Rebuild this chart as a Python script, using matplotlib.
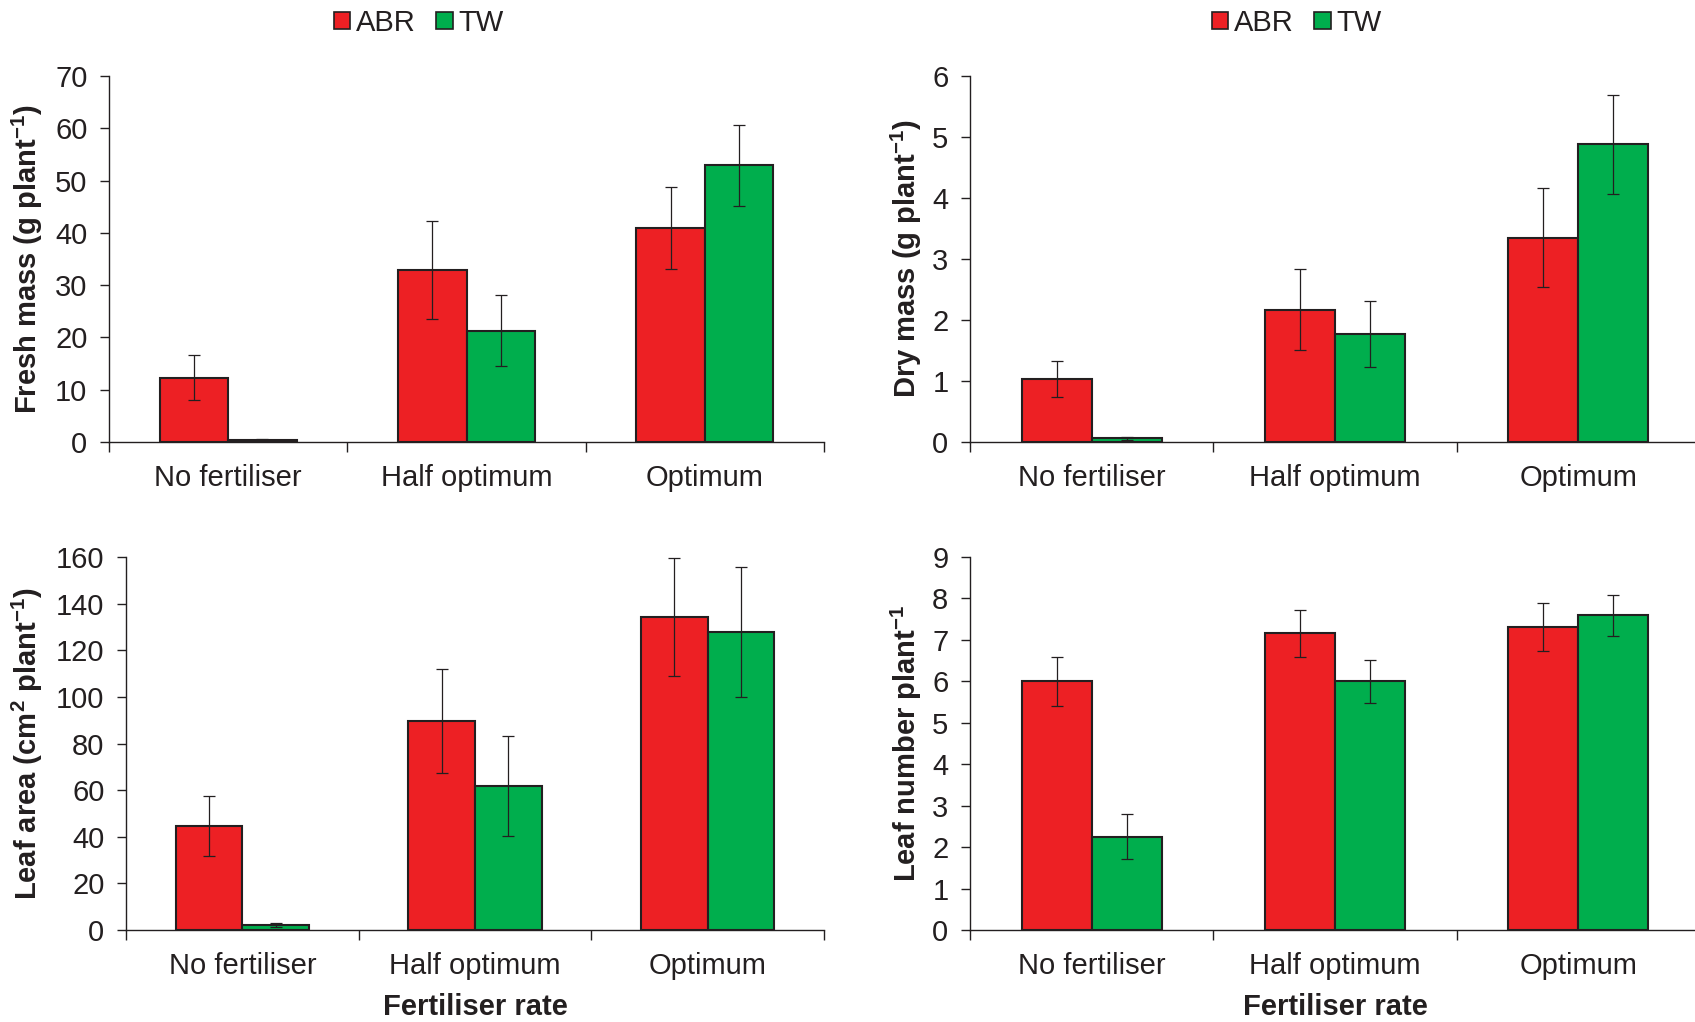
import matplotlib
matplotlib.use('Agg')
import matplotlib.pyplot as plt
from matplotlib.patches import Patch
from matplotlib.transforms import blended_transform_factory
import numpy as np

plt.rcParams['font.family'] = ['Liberation Sans', 'DejaVu Sans']
plt.rcParams['mathtext.fontset'] = 'custom'
plt.rcParams['mathtext.rm'] = 'Liberation Sans'
plt.rcParams['mathtext.bf'] = 'Liberation Sans:bold'

categories = ['No fertiliser', 'Half optimum', 'Optimum']
series = ['ABR', 'TW']

# means and standard errors per fertiliser rate
fresh_abr = [12.3, 32.9, 40.9]
fresh_abr_se = [4.3, 9.4, 7.9]
fresh_tw = [0.4, 21.3, 52.9]
fresh_tw_se = [0.1, 6.8, 7.7]

dry_abr = [1.03, 2.17, 3.35]
dry_abr_se = [0.29, 0.66, 0.81]
dry_tw = [0.06, 1.77, 4.88]
dry_tw_se = [0.02, 0.54, 0.81]

area_abr = [44.6, 89.6, 134.1]
area_abr_se = [13.0, 22.4, 25.3]
area_tw = [2.0, 61.7, 127.8]
area_tw_se = [0.8, 21.5, 28.0]

leaves_abr = [6.0, 7.16, 7.31]
leaves_abr_se = [0.59, 0.57, 0.59]
leaves_tw = [2.25, 6.0, 7.59]
leaves_tw_se = [0.54, 0.52, 0.5]

red = '#ED2024'
green = '#00AE4D'
ink = '#231F20'
bar_w = 0.287
fs = 21

W, H = 1695, 1022
fig = plt.figure(figsize=(W / 100, H / 100), dpi=100)


def px_axes(left, top, right, bottom):
    return fig.add_axes([left / W, 1 - bottom / H, (right - left) / W,
                         (bottom - top) / H])


def panel(ax, abr, abr_se, tw, tw_se, ymax, ystep, ylabel, label_x,
          xlabel=None):
    x = np.arange(len(categories))
    err_kw = dict(elinewidth=0.9, capsize=4, capthick=0.9, ecolor=ink)
    ax.bar(x - bar_w / 2, abr, bar_w, yerr=abr_se, color=red,
           edgecolor=ink, linewidth=1.5, error_kw=err_kw)
    ax.bar(x + bar_w / 2, tw, bar_w, yerr=tw_se, color=green,
           edgecolor=ink, linewidth=1.5, error_kw=err_kw)

    ax.set_xlim(-0.5, len(categories) - 0.5)
    ax.set_ylim(0, ymax)
    ax.set_yticks(np.arange(0, ymax + ystep / 2, ystep))
    ax.set_xticks(x)
    ax.set_xticklabels(categories)
    ax.set_xticks(np.arange(-0.5, len(categories)), minor=True)
    ax.tick_params(axis='x', which='major', length=0, pad=16,
                   labelsize=fs, colors=ink)
    ax.tick_params(axis='x', which='minor', length=7, width=1, color=ink)
    ax.tick_params(axis='y', length=6.5, width=1, pad=9, labelsize=fs,
                   colors=ink)

    for side in ['top', 'right']:
        ax.spines[side].set_visible(False)
    for side in ['left', 'bottom']:
        ax.spines[side].set_color(ink)
        ax.spines[side].set_linewidth(1)

    ax.set_ylabel(ylabel, fontsize=fs, fontweight='bold', color=ink)
    # label's right edge at a fixed figure x, centred on the axes height
    ax.yaxis.set_label_coords(label_x / W, 0.5,
                              transform=blended_transform_factory(
                                  fig.transFigure, ax.transAxes))
    if xlabel:
        ax.set_xlabel(xlabel, fontsize=fs, fontweight='bold', color=ink,
                      labelpad=9)


ax1 = px_axes(109, 76, 824, 442)
ax2 = px_axes(970, 76, 1700, 442)
ax3 = px_axes(126, 557, 824, 930)
ax4 = px_axes(970, 557, 1700, 930)

panel(ax1, fresh_abr, fresh_abr_se, fresh_tw, fresh_tw_se, 70, 10,
      r'Fresh mass (g plant$^{\mathbf{-1}}$)', 45)
panel(ax2, dry_abr, dry_abr_se, dry_tw, dry_tw_se, 6, 1,
      r'Dry mass (g plant$^{\mathbf{-1}}$)', 924)
panel(ax3, area_abr, area_abr_se, area_tw, area_tw_se, 160, 20,
      r'Leaf area (cm$^{\mathbf{2}}$ plant$^{\mathbf{-1}}$)', 45,
      xlabel='Fertiliser rate')
panel(ax4, leaves_abr, leaves_abr_se, leaves_tw, leaves_tw_se, 9, 1,
      r'Leaf number plant$^{\mathbf{-1}}$', 924, xlabel='Fertiliser rate')

# legends over the two upper panels
handles = [Patch(facecolor=red, edgecolor=ink, linewidth=1.2),
           Patch(facecolor=green, edgecolor=ink, linewidth=1.2)]
for cx in [419, 1297]:
    fig.legend(handles, series, loc='center', ncol=2,
               bbox_to_anchor=(cx / W, 1 - 23 / H), frameon=False,
               fontsize=fs, handlelength=0.55, handleheight=0.55,
               handletextpad=0.2, columnspacing=0.7, labelcolor=ink)

fig.savefig('out.png', dpi=100)
